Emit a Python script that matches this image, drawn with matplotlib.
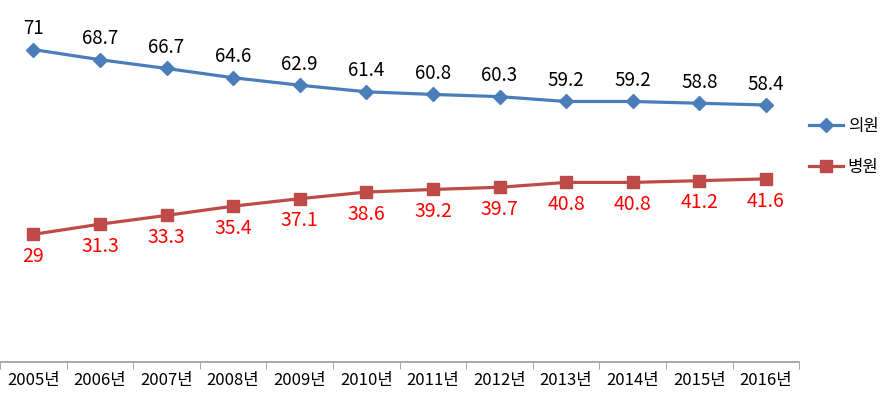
import matplotlib
matplotlib.use("Agg")
import matplotlib.pyplot as plt
import numpy as np

plt.rcParams['font.family'] = ['Noto Sans CJK KR', 'DejaVu Sans']

years = ['2005년', '2006년', '2007년', '2008년', '2009년', '2010년',
         '2011년', '2012년', '2013년', '2014년', '2015년', '2016년']
clinic = [71, 68.7, 66.7, 64.6, 62.9, 61.4, 60.8, 60.3, 59.2, 59.2, 58.8, 58.4]
hospital = [29, 31.3, 33.3, 35.4, 37.1, 38.6, 39.2, 39.7, 40.8, 40.8, 41.2, 41.6]

blue = '#4A7EBB'
red = '#BE4B48'

fig = plt.figure(figsize=(8.89, 3.99), dpi=100)
ax = fig.add_axes([0.0, 0.093, 0.899, 0.882])

x = np.arange(len(years))
ax.plot(x, clinic, color=blue, lw=2.3, marker='D', ms=7.5, label='의원')
ax.plot(x, hospital, color=red, lw=2.3, marker='s', ms=8, label='병원')

for i, v in enumerate(clinic):
    ax.annotate(f'{v:g}', (i, v), xytext=(0, 15), textcoords='offset points',
                ha='center', va='center', fontsize=13.5, color='black')
for i, v in enumerate(hospital):
    ax.annotate(f'{v:g}', (i, v), xytext=(0, -16), textcoords='offset points',
                ha='center', va='center', fontsize=14, color='red')

ax.set_xlim(-0.5, len(years) - 0.5)
ax.set_ylim(0, 80)
ax.set_yticks([])
ax.set_xticks(x)
ax.set_xticklabels(years, fontsize=12, fontweight='medium')
ax.set_xticks(np.arange(len(years) + 1) - 0.5, minor=True)
ax.tick_params(axis='x', which='major', length=0, pad=7)
ax.tick_params(axis='x', which='minor', length=5, color='#999999', direction='out')
for s in ['top', 'right', 'left']:
    ax.spines[s].set_visible(False)
ax.spines['bottom'].set_color('#999999')
ax.spines['bottom'].set_linewidth(1.2)

ax.legend(loc='center left', bbox_to_anchor=(0.998, 0.61), frameon=False,
          fontsize=12, handlelength=2.0, labelspacing=1.45, handletextpad=0.3,
          borderaxespad=0.3)

fig.savefig('out.png', dpi=100)
